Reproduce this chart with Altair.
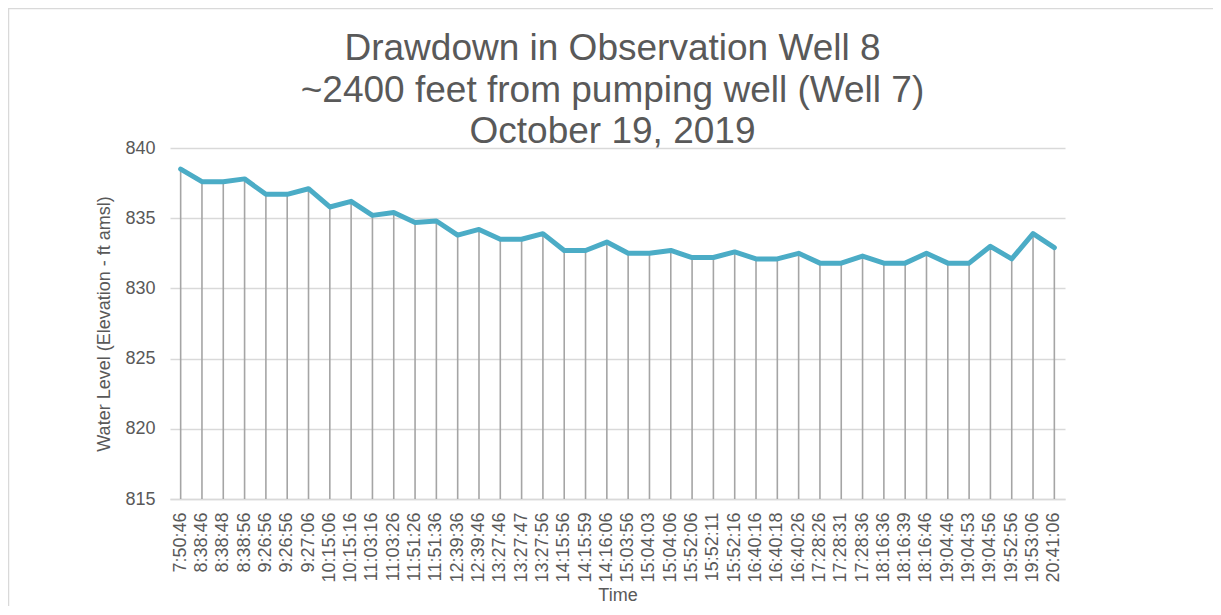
import altair as alt
import pandas as pd

title_lines = ["Drawdown in Observation Well 8",
               "~2400 feet from pumping well (Well 7)",
               "October 19, 2019"]

times = ["7:50:46", "8:38:46", "8:38:48", "8:38:56", "9:26:56", "9:26:56", "9:27:06",
         "10:15:06", "10:15:16", "11:03:16", "11:03:26", "11:51:26", "11:51:36",
         "12:39:36", "12:39:46", "13:27:46", "13:27:47", "13:27:56", "14:15:56",
         "14:15:59", "14:16:06", "15:03:56", "15:04:03", "15:04:06", "15:52:06",
         "15:52:11", "15:52:16", "16:40:16", "16:40:18", "16:40:26", "17:28:26",
         "17:28:31", "17:28:36", "18:16:36", "18:16:39", "18:16:46", "19:04:46",
         "19:04:53", "19:04:56", "19:52:56", "19:53:06", "20:41:06"]

levels = [838.5, 837.6, 837.6, 837.8, 836.7, 836.7, 837.1, 835.8, 836.2, 835.2,
          835.4, 834.7, 834.8, 833.8, 834.2, 833.5, 833.5, 833.9, 832.7, 832.7,
          833.3, 832.5, 832.5, 832.7, 832.2, 832.2, 832.6, 832.1, 832.1, 832.5,
          831.8, 831.8, 832.3, 831.8, 831.8, 832.5, 831.8, 831.8, 833.0, 832.1,
          833.9, 832.9]

y_min, y_max = 815, 840

df = pd.DataFrame({"idx": list(range(len(times))), "time": times, "level": levels})
df["base"] = y_min

label_array = "[" + ",".join("'" + t + "'" for t in times) + "]"

FONT = "Liberation Sans"
TXT = "#595959"
W, H = 895, 351

x_enc = alt.X(
    "idx:O",
    title="Time",
    axis=alt.Axis(
        labelExpr=label_array + "[datum.value]",
        labelAngle=-90,
        labelFontSize=18,
        labelColor=TXT,
        labelFont=FONT,
        labelPadding=13,
        ticks=False,
        domainColor="#D9D9D9",
        domainWidth=1.5,
        titleFontSize=18,
        titleFont=FONT,
        titleColor=TXT,
        titleFontWeight="normal",
        titlePadding=4,
        grid=False,
    ),
)

y_scale = alt.Scale(domain=[y_min, y_max], nice=False, zero=False)

drops = alt.Chart(df).mark_rule(color="#A5A5A5", strokeWidth=1.6).encode(
    x=x_enc,
    y=alt.Y(
        "base:Q",
        scale=y_scale,
        title="Water Level (Elevation - ft amsl)",
        axis=alt.Axis(
            values=[815, 820, 825, 830, 835, 840],
            labelFontSize=18,
            labelColor=TXT,
            labelFont=FONT,
            labelPadding=15,
            ticks=False,
            domain=False,
            gridColor="#D9D9D9",
            gridWidth=1.5,
            titleFontSize=18,
            titleFont=FONT,
            titleColor=TXT,
            titleFontWeight="normal",
            titlePadding=11,
        ),
    ),
    y2="level:Q",
)

line = alt.Chart(df).mark_line(
    color="#4BACC6", strokeWidth=5, strokeJoin="round", strokeCap="round"
).encode(
    x=x_enc,
    y=alt.Y("level:Q", scale=y_scale),
)

border = alt.Chart(pd.DataFrame({"k": [0]})).mark_rect(
    fill=None, filled=False, stroke="#D9D9D9", strokeWidth=1.5
).encode(
    x=alt.value(-161.5), x2=alt.value(1044), y=alt.value(-139.5), y2=alt.value(H + 130)
)

title = alt.Chart(pd.DataFrame({"k": [0]})).mark_text(
    text=title_lines,
    fontSize=37,
    lineHeight=41.7,
    font=FONT,
    color=TXT,
    align="center",
    baseline="alphabetic",
).encode(x=alt.value(W / 2 - 5), y=alt.value(-88))

chart = alt.layer(border, drops, line, title).properties(
    width=W,
    height=H,
    autosize=alt.AutoSizeParams(type="none"),
    padding={"left": 162, "top": 140, "right": 148, "bottom": 107},
).configure(background="white").configure_view(strokeWidth=0, stroke="transparent")

chart.save("out.html", embed_options={"renderer": "svg", "actions": False})
